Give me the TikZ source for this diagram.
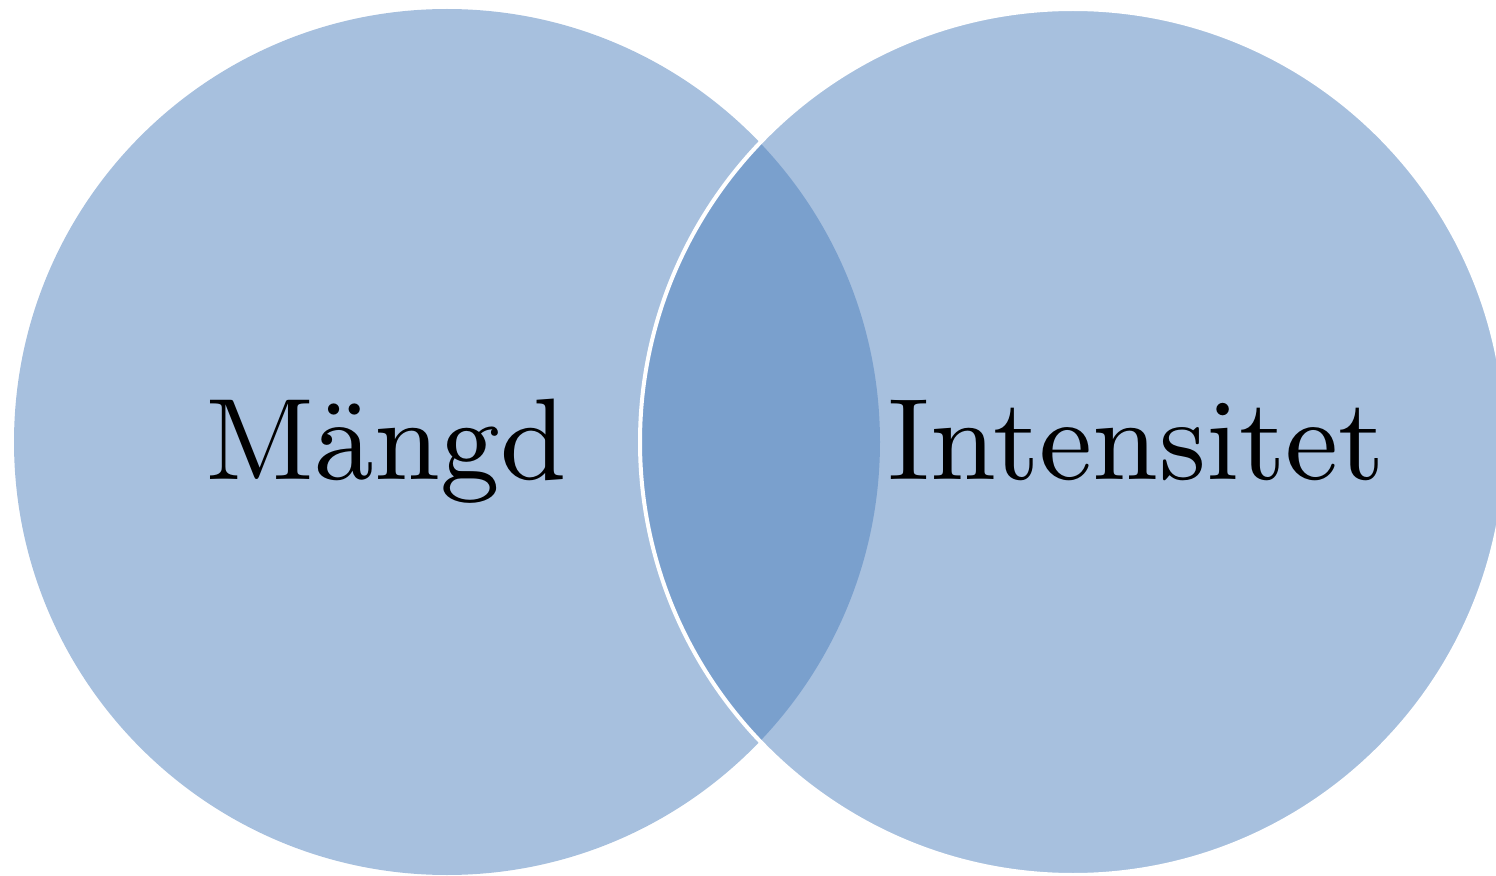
\documentclass[tikz,border=0pt]{standalone}
\usepackage{fontspec}
\newfontfamily\lmnine{lmroman9-regular.otf}
\definecolor{vennblue}{RGB}{79,129,189}
\begin{document}
\begin{tikzpicture}[x=1pt,y=1pt,
  setcircle/.style={circle, inner sep=0pt, minimum size=433pt, fill=vennblue, fill opacity=0.5},
  setlabel/.style={inner sep=0pt, anchor=base west, font=\lmnine\fontsize{58}{62}\selectfont}]
\useasboundingbox (0,0) rectangle (748,437.5);
\node[setcircle] (left) at (223.5,216.5) {};
\node[setcircle, draw=white, draw opacity=1, line width=2pt] (right) at (536.5,216.5) {};
\node[setlabel] (mangd) at (102.5,198) {Mängd};
\node[setlabel] (intens) at (443.5,198) {Intensitet};
\end{tikzpicture}
\end{document}
